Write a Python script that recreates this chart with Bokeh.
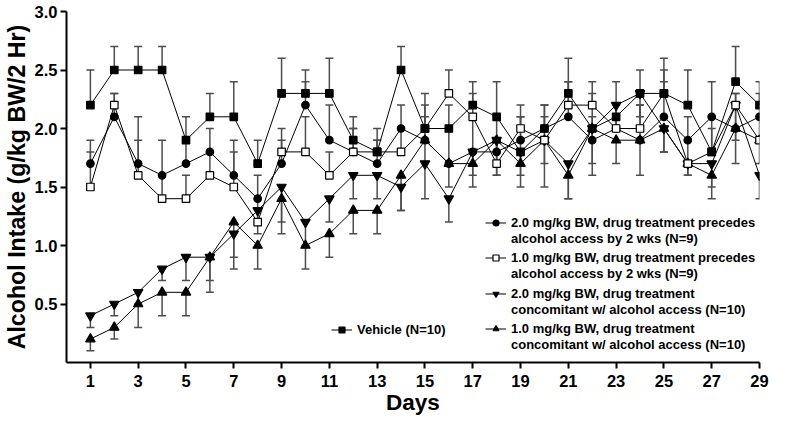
from bokeh.plotting import figure
from bokeh.models import (ColumnDataSource, Whisker, TeeHead, Legend, LegendItem,
                          FixedTicker, Range1d, NumeralTickFormatter)
from bokeh.core.properties import value
from bokeh.embed import file_html
from bokeh.resources import INLINE

# ---------------- data ----------------
days = list(range(1, 30))
x_ticks = list(range(1, 30, 2))
y_ticks = [0.5, 1.0, 1.5, 2.0, 2.5, 3.0]

vehicle = [2.2, 2.5, 2.5, 2.5, 1.9, 2.1, 2.1, 1.7, 2.3, 2.3, 2.3, 1.9, 1.8, 2.5, 2.0,
           2.0, 2.2, 2.1, 1.8, 2.0, 2.3, 2.0, 2.1, 2.3, 2.3, 2.2, 1.8, 2.4, 2.2]
vehicle_err = [0.3, 0.2, 0.2, 0.2, 0.2, 0.2, 0.3, 0.2, 0.3, 0.2, 0.3, 0.2, 0.2, 0.2, 0.3,
               0.2, 0.2, 0.3, 0.3, 0.2, 0.3, 0.3, 0.3, 0.2, 0.3, 0.3, 0.3, 0.3, 0.2]

pre_2mg = [1.7, 2.1, 1.7, 1.6, 1.7, 1.8, 1.6, 1.4, 1.7, 2.2, 1.9, 1.8, 1.7, 2.0, 1.9,
           1.7, 1.8, 1.8, 1.9, 2.0, 2.1, 1.9, 2.0, 1.9, 2.1, 1.9, 2.1, 2.0, 2.1]
pre_2mg_err = [0.2, 0.2, 0.4, 0.3, 0.2, 0.2, 0.3, 0.2, 0.3, 0.2, 0.3, 0.2, 0.2, 0.2, 0.2,
               0.3, 0.3, 0.3, 0.2, 0.2, 0.3, 0.2, 0.2, 0.3, 0.3, 0.2, 0.3, 0.3, 0.2]

pre_1mg = [1.5, 2.2, 1.6, 1.4, 1.4, 1.6, 1.5, 1.2, 1.8, 1.8, 1.6, 1.8, 1.8, 1.8, 2.0,
           2.3, 2.1, 1.7, 2.0, 1.9, 2.2, 2.2, 2.0, 2.0, 2.3, 1.7, 1.8, 2.2, 1.9]
pre_1mg_err = [0.3, 0.1, 0.3, 0.2, 0.2, 0.2, 0.3, 0.2, 0.1, 0.3, 0.2, 0.2, 0.1, 0.2, 0.2,
               0.2, 0.2, 0.2, 0.2, 0.2, 0.2, 0.2, 0.2, 0.2, 0.2, 0.2, 0.2, 0.1, 0.2]

con_2mg = [0.4, 0.5, 0.6, 0.8, 0.9, 0.9, 1.1, 1.3, 1.5, 1.2, 1.4, 1.6, 1.6, 1.5, 1.7,
           1.4, 1.8, 1.9, 1.8, 1.9, 1.7, 2.0, 2.2, 2.3, 2.0, 1.7, 1.7, 2.2, 1.6]
con_2mg_err = [0.1, 0.1, 0.1, 0.1, 0.2, 0.2, 0.2, 0.2, 0.3, 0.2, 0.2, 0.2, 0.2, 0.2, 0.3,
               0.2, 0.2, 0.3, 0.2, 0.2, 0.3, 0.3, 0.2, 0.2, 0.2, 0.1, 0.2, 0.3, 0.2]

con_1mg = [0.2, 0.3, 0.5, 0.6, 0.6, 0.9, 1.2, 1.0, 1.4, 1.0, 1.1, 1.3, 1.3, 1.6, 1.9,
           1.7, 1.7, 1.9, 1.7, 1.9, 1.6, 2.0, 1.9, 1.9, 2.0, 1.7, 1.6, 2.0, 1.9]
con_1mg_err = [0.1, 0.1, 0.2, 0.2, 0.2, 0.3, 0.4, 0.2, 0.3, 0.2, 0.2, 0.2, 0.2, 0.3, 0.2,
               0.2, 0.2, 0.3, 0.2, 0.4, 0.2, 0.4, 0.2, 0.3, 0.2, 0.1, 0.2, 0.3, 0.2]

labels = {
    "vehicle": ["Vehicle (N=10)"],
    "pre_2mg": ["2.0 mg/kg BW, drug treatment precedes", "alcohol access by 2 wks (N=9)"],
    "pre_1mg": ["1.0 mg/kg BW, drug treatment precedes", "alcohol access by 2 wks (N=9)"],
    "con_2mg": ["2.0 mg/kg BW, drug treatment", "concomitant w/ alcohol access (N=10)"],
    "con_1mg": ["1.0 mg/kg BW, drug treatment", "concomitant w/ alcohol access (N=10)"],
}

# ---------------- figure ----------------
FONT = "Liberation Sans"
p = figure(width=769, height=418, output_backend="svg", toolbar_location=None,
           x_range=Range1d(0, 29), y_range=Range1d(0, 3),
           min_border_left=60, min_border_right=10, min_border_top=11,
           min_border_bottom=56)
p.outline_line_color = None
p.grid.visible = False
p.background_fill_color = "white"

for ax in (p.xaxis[0], p.yaxis[0]):
    ax.axis_line_width = 2
    ax.axis_line_color = "black"
    ax.major_tick_line_width = 2
    ax.major_tick_line_color = "black"
    ax.major_tick_in = 0
    ax.major_tick_out = 6
    ax.minor_tick_line_color = None
    ax.major_label_text_font = FONT
    ax.major_label_text_font_style = "bold"
    ax.major_label_text_font_size = "16.5px"
    ax.major_label_text_color = "black"
    ax.axis_label_text_font = FONT
    ax.axis_label_text_font_style = "bold"
    ax.axis_label_text_color = "black"

p.xaxis.ticker = FixedTicker(ticks=x_ticks)
p.yaxis.ticker = FixedTicker(ticks=y_ticks)
p.yaxis.formatter = NumeralTickFormatter(format="0.0")
p.xaxis.axis_label = "Days"
p.yaxis.axis_label = "Alcohol Intake (g/kg BW/2 Hr)"
p.xaxis.major_label_standoff = 6
p.yaxis.major_label_standoff = 3
p.xaxis.axis_label_standoff = 0
p.yaxis.axis_label_standoff = 2
p.xaxis.axis_label_text_font_size = "22.5px"
p.yaxis.axis_label_text_font_size = "23.2px"

ERR_COLOR = "#4d4d4d"

series = [
    # key, values, errors, marker, fill, size, direction
    ("con_1mg", con_1mg, con_1mg_err, "triangle", "black", 9.5, "down"),
    ("con_2mg", con_2mg, con_2mg_err, "inverted_triangle", "black", 9.5, "down"),
    ("pre_2mg", pre_2mg, pre_2mg_err, "circle", "black", 7.5, "up"),
    ("pre_1mg", pre_1mg, pre_1mg_err, "square", "white", 7.5, "up"),
    ("vehicle", vehicle, vehicle_err, "square", "black", 7.5, "up"),
]

# error bars (one-sided, as in the original figure)
for key, vals, errs, mk, fill, size, direction in series:
    if direction == "up":
        src = ColumnDataSource(dict(x=days, lower=vals,
                                    upper=[v + e for v, e in zip(vals, errs)]))
        w = Whisker(source=src, base="x", lower="lower", upper="upper",
                    dimension="height", line_color=ERR_COLOR, line_width=1.5,
                    lower_head=None,
                    upper_head=TeeHead(size=8, line_color=ERR_COLOR, line_width=1.5))
    else:
        src = ColumnDataSource(dict(x=days, upper=vals,
                                    lower=[v - e for v, e in zip(vals, errs)]))
        w = Whisker(source=src, base="x", lower="lower", upper="upper",
                    dimension="height", line_color=ERR_COLOR, line_width=1.5,
                    upper_head=None,
                    lower_head=TeeHead(size=8, line_color=ERR_COLOR, line_width=1.5))
    p.add_layout(w)

renderers = {}
for key, vals, errs, mk, fill, size, direction in series:
    renderers[key] = [p.line(days, vals, line_color="black", line_width=1)]
for key, vals, errs, mk, fill, size, direction in series:
    renderers[key].append(p.scatter(days, vals, marker=mk, size=size,
                                    fill_color=fill, line_color="black",
                                    line_width=1.2))

dummy = p.scatter(x=[], y=[], size=0, fill_alpha=0, line_alpha=0)


def add_legend(key, vx, vy):
    lines = labels[key]
    items = [LegendItem(label=value(lines[0]), renderers=renderers[key])]
    for extra in lines[1:]:
        items.append(LegendItem(label=value(extra), renderers=[dummy]))
    lg = Legend(items=items, location=(vx, vy), orientation="vertical",
                padding=0, margin=0, spacing=1, border_line_color=None,
                background_fill_alpha=0, glyph_width=21, glyph_height=15,
                label_height=15, label_standoff=5,
                label_text_font=FONT, label_text_font_style="bold",
                label_text_font_size="13px", label_text_color="black")
    p.add_layout(lg, "center")


add_legend("pre_2mg", 419, 116)
add_legend("pre_1mg", 419, 81)
add_legend("con_2mg", 419, 45)
add_legend("con_1mg", 419, 10)
add_legend("vehicle", 265, 25)

open("out.html", "w").write(file_html(p, INLINE))
